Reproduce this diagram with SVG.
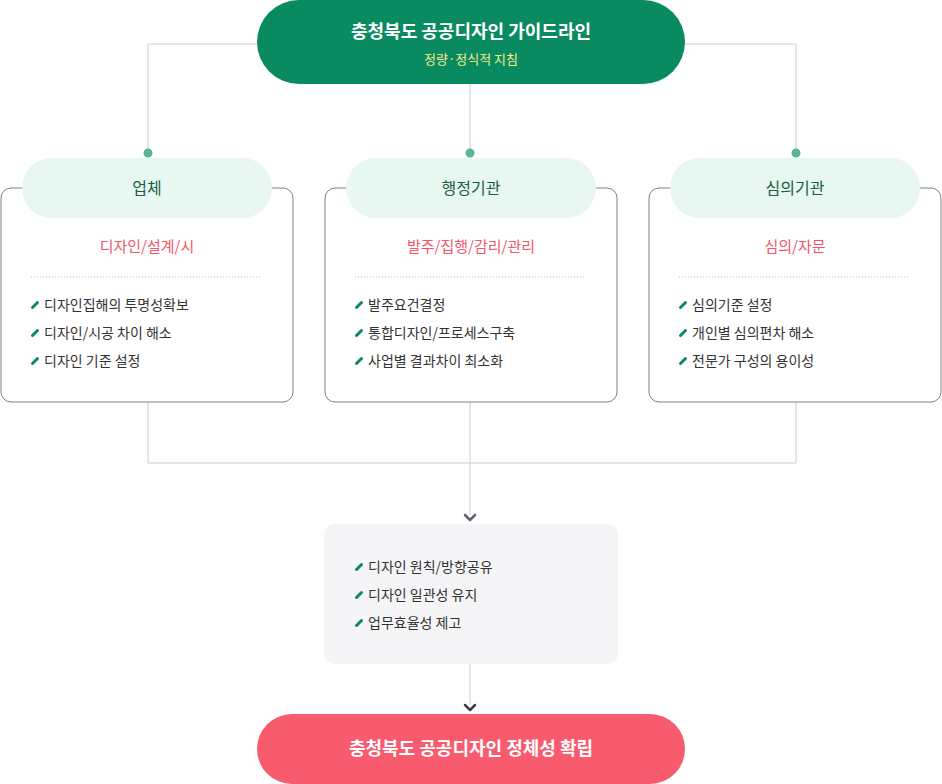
<svg xmlns="http://www.w3.org/2000/svg" width="942" height="784" viewBox="0 0 942 784">
<style>
text{font-family:"Noto Sans CJK KR","Noto Sans",sans-serif}
.ln{fill:none;stroke:#c9ccd4;stroke-width:1}
.box{fill:#fff;stroke:#7d828c;stroke-width:1}
.pill{fill:#e8f7f1}
.hd{font-size:16px;fill:#1b5e43;text-anchor:middle}
.sub{font-size:15px;fill:#f0566a;text-anchor:middle}
.it{font-size:14px;fill:#333}
.dot{stroke:#b8bcc4;stroke-width:1;stroke-dasharray:1 2}
.chev{fill:none;stroke-width:2.5;stroke-linecap:round;stroke-linejoin:round}
</style>
<defs>
<path id="b" d="M-2.5 2.5 L2.5 -2.5" stroke="#0a8a60" stroke-width="3" stroke-linecap="round"/>
</defs>
<g id="connectors">
<path class="ln" d="M257 44 H148 V153 M470 84 V153 M685 44 H796 V153"/>
<path class="ln" d="M148 402 V463 H796 V402 M470 402 V515 M470 663 V705"/>
<circle cx="148" cy="153" r="4.5" fill="#5bb594"/>
<circle cx="470" cy="153" r="4.5" fill="#5bb594"/>
<circle cx="796" cy="153" r="4.5" fill="#5bb594"/>
<path class="chev" stroke="#5d6373" d="M465 515 L470 520 L475 515"/>
<path class="chev" stroke="#3a3f4c" d="M465 705 L470 710 L475 705"/>
</g>
<g id="top">
<rect x="257" y="0" width="428" height="84" rx="42" fill="#0a8a60"/>
<text x="471" y="38" font-size="18" font-weight="bold" fill="#fff" text-anchor="middle">충청북도 공공디자인 가이드라인</text>
<text x="471" y="64" font-size="13" fill="#f8ee8c" text-anchor="middle">정량·정식적 지침</text>
</g>
<g id="n1">
<rect class="box" x="1" y="188" width="292" height="214" rx="10"/>
<rect class="pill" x="22" y="158" width="250" height="60" rx="30"/>
<text class="hd" x="147" y="194">업체</text>
<text class="sub" x="147" y="252">디자인/설계/시</text>
<line class="dot" x1="31" y1="277" x2="262" y2="277"/>
<use href="#b" x="35" y="305"/><text class="it" x="44" y="310">디자인집해의 투명성확보</text>
<use href="#b" x="35" y="333"/><text class="it" x="44" y="338">디자인/시공 차이 해소</text>
<use href="#b" x="35" y="361"/><text class="it" x="44" y="366">디자인 기준 설정</text>
</g>
<g id="n2">
<rect class="box" x="325" y="188" width="292" height="214" rx="10"/>
<rect class="pill" x="346" y="158" width="250" height="60" rx="30"/>
<text class="hd" x="471" y="194">행정기관</text>
<text class="sub" x="471" y="252">발주/집행/감리/관리</text>
<line class="dot" x1="355" y1="277" x2="586" y2="277"/>
<use href="#b" x="359" y="305"/><text class="it" x="368" y="310">발주요건결정</text>
<use href="#b" x="359" y="333"/><text class="it" x="368" y="338">통합디자인/프로세스구축</text>
<use href="#b" x="359" y="361"/><text class="it" x="368" y="366">사업별 결과차이 최소화</text>
</g>
<g id="n3">
<rect class="box" x="649" y="188" width="292" height="214" rx="10"/>
<rect class="pill" x="670" y="158" width="250" height="60" rx="30"/>
<text class="hd" x="795" y="194">심의기관</text>
<text class="sub" x="795" y="252">심의/자문</text>
<line class="dot" x1="679" y1="277" x2="910" y2="277"/>
<use href="#b" x="683" y="305"/><text class="it" x="692" y="310">심의기준 설정</text>
<use href="#b" x="683" y="333"/><text class="it" x="692" y="338">개인별 심의편차 해소</text>
<use href="#b" x="683" y="361"/><text class="it" x="692" y="366">전문가 구성의 용이성</text>
</g>
<g id="mid">
<rect x="324" y="524" width="294" height="140" rx="10" fill="#f5f5f7"/>
<use href="#b" x="359" y="567"/><text class="it" x="368" y="572">디자인 원칙/방향공유</text>
<use href="#b" x="359" y="595"/><text class="it" x="368" y="600">디자인 일관성 유지</text>
<use href="#b" x="359" y="623"/><text class="it" x="368" y="628">업무효율성 제고</text>
</g>
<g id="bottom">
<rect x="257" y="714" width="428" height="70" rx="35" fill="#f85a6e"/>
<text x="471" y="755" font-size="18" font-weight="bold" fill="#fff" text-anchor="middle">충청북도 공공디자인 정체성 확립</text>
</g>
</svg>
